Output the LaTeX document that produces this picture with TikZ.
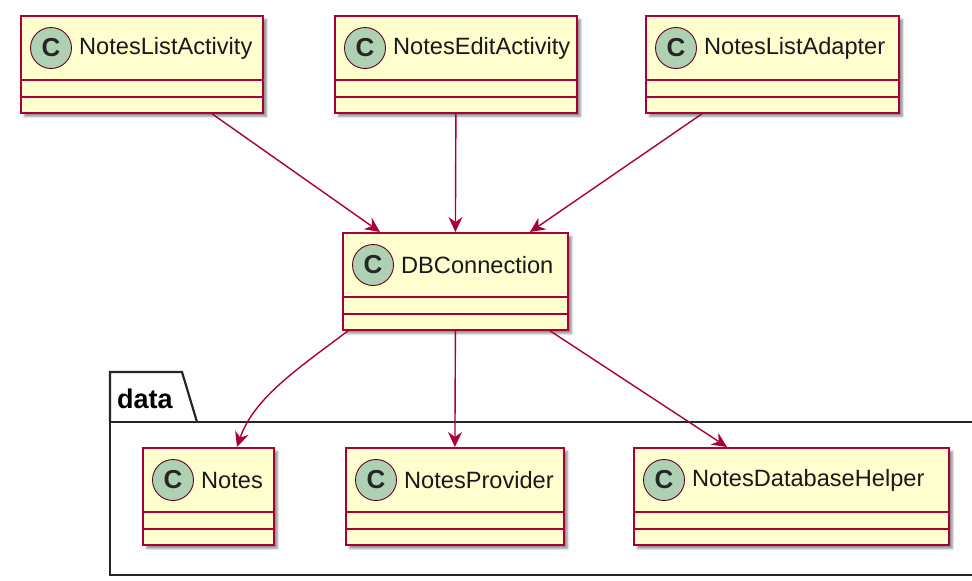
\documentclass[tikz,border=0pt]{standalone}
\usepackage{fontspec}
\setmainfont{Liberation Sans}
\usetikzlibrary{arrows.meta,calc,shadows.blur}
\definecolor{umlred}{HTML}{A80036}
\definecolor{umlfill}{HTML}{FEFECE}
\definecolor{umlcirc}{HTML}{ADD1B2}
\tikzset{
  classbox/.style={draw=umlred, fill=umlfill, line width=1.8pt, minimum height=97pt,
    inner sep=0pt, anchor=north west,
    blur shadow={shadow xshift=3.5pt, shadow yshift=-3.5pt, shadow opacity=45, shadow blur steps=6}},
  sepline/.style={draw=umlred, line width=1.8pt},
  spot/.style={circle, draw=umlred!60!black, fill=umlcirc, line width=0.9pt, minimum size=41pt,
    inner sep=0pt, font=\bfseries\fontsize{26}{26}\selectfont, text=black!85},
  classname/.style={anchor=west, inner sep=0pt, font=\fontsize{23.6}{25}\selectfont, text=black!90},
  dep/.style={draw=umlred, line width=1.4pt, -{Stealth[length=15pt,width=14pt,inset=5pt]}},
  pkg/.style={draw=black!85, line width=2.2pt},
  pkgname/.style={anchor=base west, inner sep=0pt, font=\bfseries\fontsize{27}{27}\selectfont},
}
\newcommand\umlclass[5]{%
  \node[classbox, minimum width=#4pt] (#1) at (#2,#3) {};
  \draw[sepline] ($(#1.north west)+(0,65)$) -- ($(#1.north east)+(0,65)$);
  \draw[sepline] ($(#1.north west)+(0,82)$) -- ($(#1.north east)+(0,82)$);
  \node[spot] (#1-c) at ($(#1.north west)+(31,33)$) {C};
  \node[classname] (#1-t) at ($(#1.north west)+(59,33)$) {#5};
}
\begin{document}
\begin{tikzpicture}[x=1pt,y=-1pt]
\useasboundingbox (0,0) rectangle (972,581);
% package
\draw[pkg] (110,422) -- (110,372) -- (182,372) -- (197,422);
\draw[pkg] (972,422) -- (110,422) -- (110,575) -- (972,575);
\node[pkgname] (pkgtitle) at (117,408) {data};
% classes
\umlclass{nla}{20}{15}{242}{NotesListActivity}
\umlclass{nea}{334}{15}{242}{NotesEditActivity}
\umlclass{nlad}{645}{15}{253}{NotesListAdapter}
\umlclass{db}{342}{232}{225}{DBConnection}
\umlclass{notes}{142}{447}{131}{Notes}
\umlclass{np}{345}{447}{218}{NotesProvider}
\umlclass{ndh}{633}{447}{315}{NotesDatabaseHelper}
% dependencies
\draw[dep] ($(nla.south west)+(192,0)$) -- ($(db.north west)+(38,0)$);
\draw[dep] (nea.south) -- (db.north);
\draw[dep] ($(nlad.south west)+(57,0)$) -- ($(db.north west)+(188,0)$);
\draw[dep] ($(db.south west)+(6,0)$) .. controls ($(db.south west)+(-40,35)$) and ($(notes.north west)+(112,-50)$) .. ($(notes.north west)+(95,0)$);
\draw[dep] (db.south) -- (np.north);
\draw[dep] ($(db.south west)+(208,0)$) -- ($(ndh.north west)+(94,0)$);
\end{tikzpicture}
\end{document}
